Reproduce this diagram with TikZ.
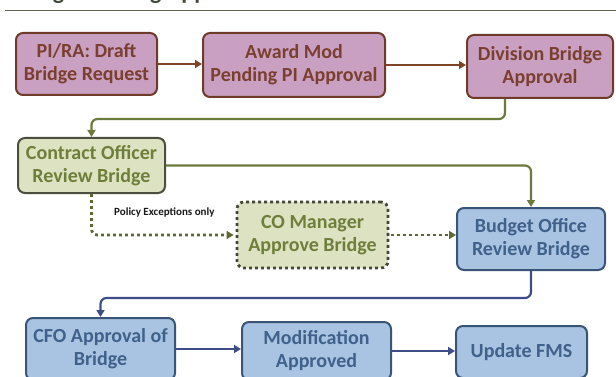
\documentclass[tikz,border=0pt]{standalone}
\usepackage{fontspec}
\setmainfont{Carlito}
\usetikzlibrary{arrows.meta,calc}
\definecolor{pfill}{HTML}{C9A0C2}
\definecolor{pborder}{HTML}{6E3B2A}
\definecolor{ptext}{HTML}{7B3F30}
\definecolor{parrow}{HTML}{7E4426}
\definecolor{gfill}{HTML}{DCE2C2}
\definecolor{gborder}{HTML}{4B4F3C}
\definecolor{gtext}{HTML}{6E7F3A}
\definecolor{garrow}{HTML}{6B7B3C}
\definecolor{bfill}{HTML}{A9C3E2}
\definecolor{bborder}{HTML}{3A5478}
\definecolor{btext}{HTML}{40618A}
\definecolor{barrow}{HTML}{3E4C88}
\definecolor{titleline}{HTML}{5E6355}
\definecolor{titletext}{HTML}{3F4A3A}
\tikzset{
  box/.style={rectangle, rounded corners=7pt, line width=2pt, align=center,
    font=\bfseries\fontsize{20}{23}\selectfont, inner sep=0pt},
  pbox/.style={box, draw=pborder, fill=pfill, text=ptext},
  gbox/.style={box, draw=gborder, fill=gfill, text=gtext},
  gdotbox/.style={box, draw=gborder!90!black, fill=gfill, text=gtext, line width=2.8pt, dash pattern=on 2.8pt off 3.2pt},
  bbox/.style={box, draw=bborder, fill=bfill, text=btext},
  conn/.style={line width=2.2pt, -{Triangle[length=7pt,width=8pt]}},
  pconn/.style={conn, draw=parrow},
  gconn/.style={conn, draw=garrow, rounded corners=6pt},
  gdot/.style={conn, draw=garrow!85!black, line width=2.8pt, dash pattern=on 2.8pt off 3.2pt, rounded corners=6pt},
  bconn/.style={conn, draw=barrow, rounded corners=6pt},
}
\begin{document}
\begin{tikzpicture}[x=1pt,y=-1pt]
\useasboundingbox (0,0) rectangle (616,377);
\clip (0,0) rectangle (616,377);
\fill[white] (0,0) rectangle (616,377);
% title (cut off at the top edge, as in the reference)
\node[anchor=base west, inner sep=0pt, text=titletext,
  font=\bfseries\fontsize{24}{28}\selectfont] (title) at (12,-0.5) {Bridge Funding Approval Process};
\coordinate (tl1) at (5,10.5);
\coordinate (tl2) at (616,10.5);
\draw[titleline, line width=1.6pt] (tl1) -- (tl2);
% row 1
\node[pbox, minimum width=141pt, minimum height=62pt] (pira) at (86.5,64) {PI/RA: Draft\\Bridge Request};
\node[pbox, minimum width=182pt, minimum height=64pt] (award) at (294,65) {Award Mod\\Pending PI Approval};
\node[pbox, minimum width=146pt, minimum height=63pt] (div) at (540,66.5) {Division Bridge\\Approval};
% row 2
\node[gbox, minimum width=147pt, minimum height=55pt] (contract) at (91.5,165.5) {Contract Officer\\Review Bridge};
\node[gdotbox, minimum width=151pt, minimum height=66pt] (comgr) at (312.5,235) {CO Manager\\Approve Bridge};
\node[bbox, minimum width=148pt, minimum height=62pt] (budget) at (531,239) {Budget Office\\Review Bridge};
% row 3
\node[bbox, minimum width=149pt, minimum height=62pt] (cfo) at (100.5,349) {CFO Approval of\\Bridge};
\node[bbox, minimum width=149pt, minimum height=58pt] (mod) at (316.5,351) {Modification\\Approved};
\node[bbox, minimum width=131pt, minimum height=52pt] (fms) at (521.5,352) {Update FMS};
% label
\node[anchor=west, inner sep=0pt, text=black!90,
  font=\bfseries\fontsize{11}{13}\selectfont] (pol) at (114,212) {Policy Exceptions only};
% connectors
\draw[pconn] (pira.east) -- (pira.east -| award.west);
\draw[pconn] (award.east) -- (award.east -| div.west);
\draw[gconn] ([xshift=-35pt]div.south) -- ++(0,20) -| (contract.north);
\draw[gconn] (contract.east) -| (budget.north);
\draw[gdot] (contract.south) |- ([xshift=-2pt]comgr.west);
\draw[gdot] ([xshift=2pt]comgr.east) -- (comgr.east -| budget.west);
\draw[bconn] (budget.south) -- ++(0,27) -| (cfo.north);
\draw[bconn] (cfo.east) -- (cfo.east -| mod.west);
\draw[bconn] (mod.east) -- (mod.east -| fms.west);
\end{tikzpicture}
\end{document}
